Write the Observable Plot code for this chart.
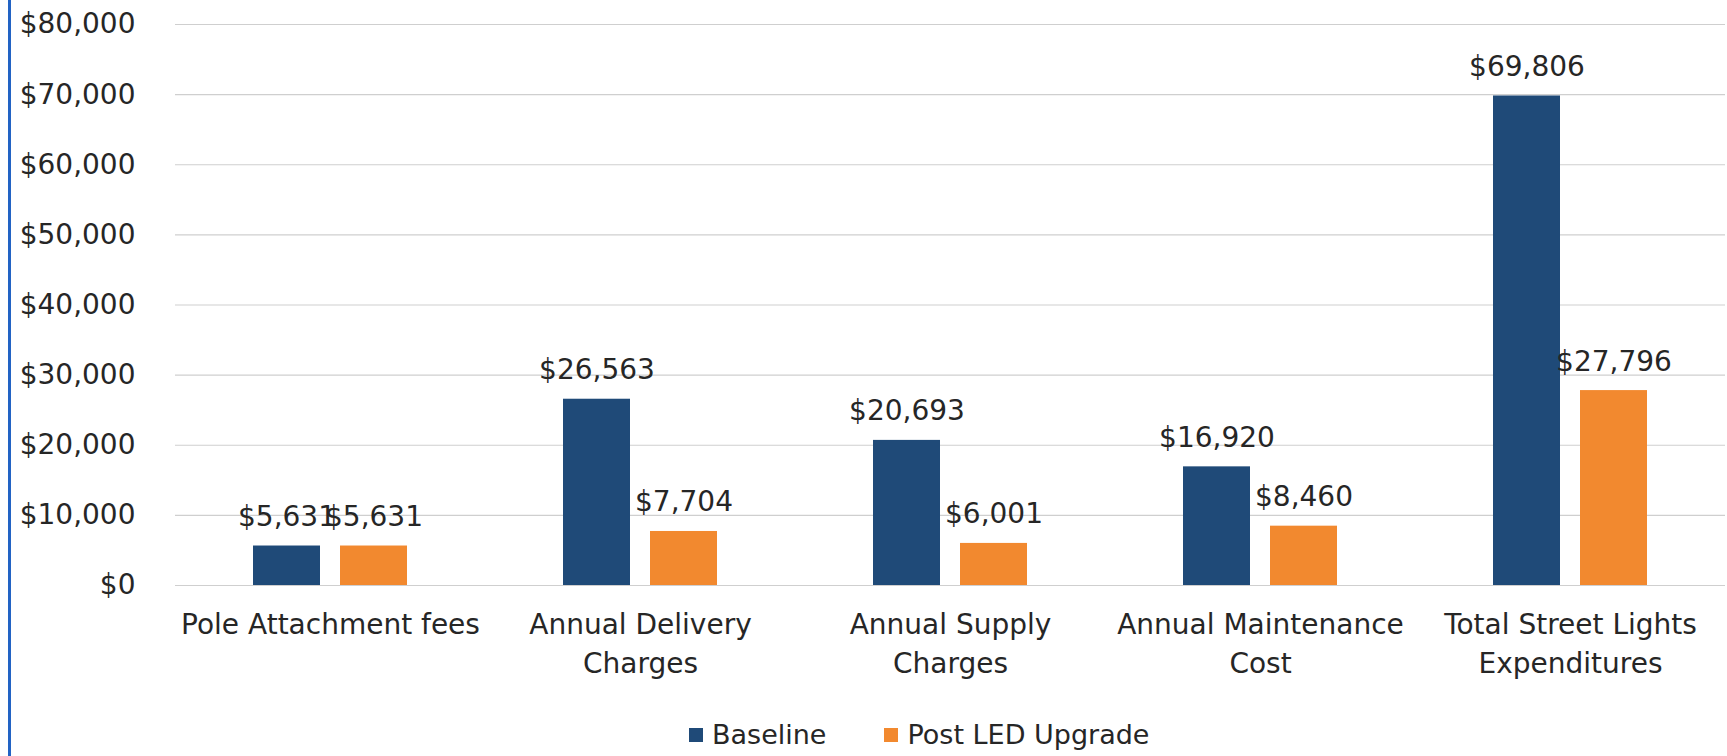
<!DOCTYPE html>
<html>
<head>
<meta charset="utf-8">
<script src="https://cdn.jsdelivr.net/npm/d3@7"></script>
<script src="https://cdn.jsdelivr.net/npm/@observablehq/plot@0.6"></script>
<style>
  html, body { margin: 0; padding: 0; background: #fff; }
  body { width: 1727px; height: 756px; position: relative; overflow: hidden; font-family: "DejaVu Sans", sans-serif; }
  #edge { position: absolute; left: 8px; top: 0; width: 3px; height: 756px; background: #2263c4; z-index: 5; }
  #chart { position: absolute; left: 0; top: 0; }
  #legend { position: absolute; left: 689px; top: 718px; }
  .lg-swatch { margin-right: 58px !important; color: #262626; }
  .lg-swatch > svg { margin-right: 9px !important; }
</style>
</head>
<body>
<div id="chart"></div>
<div id="legend"></div>
<div id="edge"></div>
<script>
const categories = ["Pole Attachment fees", "Annual Delivery Charges", "Annual Supply Charges", "Annual Maintenance Cost", "Total Street Lights Expenditures"];
const categoryLabels = ["Pole Attachment fees", "Annual Delivery\nCharges", "Annual Supply\nCharges", "Annual Maintenance\nCost", "Total Street Lights\nExpenditures"];
const series = ["Baseline", "Post LED Upgrade"];
const baseline = [5631, 26563, 20693, 16920, 69806];
const postLED = [5631, 7704, 6001, 8460, 27796];
const yTicks = [0, 10000, 20000, 30000, 40000, 50000, 60000, 70000, 80000];
const colors = ["#1f4a78", "#f2892f"];

const data = [];
categories.forEach((c, i) => {
  data.push({category: c, series: series[0], value: baseline[i]});
  data.push({category: c, series: series[1], value: postLED[i]});
});
const money = d => "$" + d3.format(",")(d);
const labelOf = new Map(categories.map((c, i) => [c, categoryLabels[i]]));

const chart = Plot.plot({
  width: 1727,
  height: 700,
  marginLeft: 173,
  marginRight: 0,
  marginTop: 24,
  marginBottom: 115,
  style: {fontFamily: "DejaVu Sans", fontSize: "28px", color: "#262626", background: "white"},
  fx: {domain: categories, padding: 0, label: null},
  x: {domain: series, paddingInner: 0.227, paddingOuter: 0.879, axis: null},
  y: {domain: [0, 80000], label: null},
  color: {domain: series, range: colors},
  marks: [
    Plot.gridY(yTicks, {stroke: "#cfcfcf", strokeOpacity: 1, strokeWidth: 1.2}),
    Plot.axisY(yTicks, {tickSize: 0, tickPadding: 40, tickFormat: money, label: null, fontSize: 28, fill: "#262626"}),
    Plot.axisFx({anchor: "bottom", tickSize: 0, tickPadding: 21, lineHeight: 1.38, fontSize: 28, label: null, fill: "#262626", tickFormat: d => labelOf.get(d)}),
    Plot.barY(data, {fx: "category", x: "series", y: "value", fill: "series"}),
    Plot.text(data, {fx: "category", x: "series", y: "value", text: d => money(d.value), dy: -20, lineAnchor: "bottom", fontSize: 28, fill: "#262626"})
  ]
});
document.getElementById("chart").appendChild(chart);

const legend = Plot.legend({
  color: {type: "categorical", domain: series, range: colors},
  swatchSize: 14,
  className: "lg",
  style: {fontFamily: "DejaVu Sans", fontSize: "27px", color: "#262626"}
});
document.getElementById("legend").appendChild(legend);
</script>
</body>
</html>
